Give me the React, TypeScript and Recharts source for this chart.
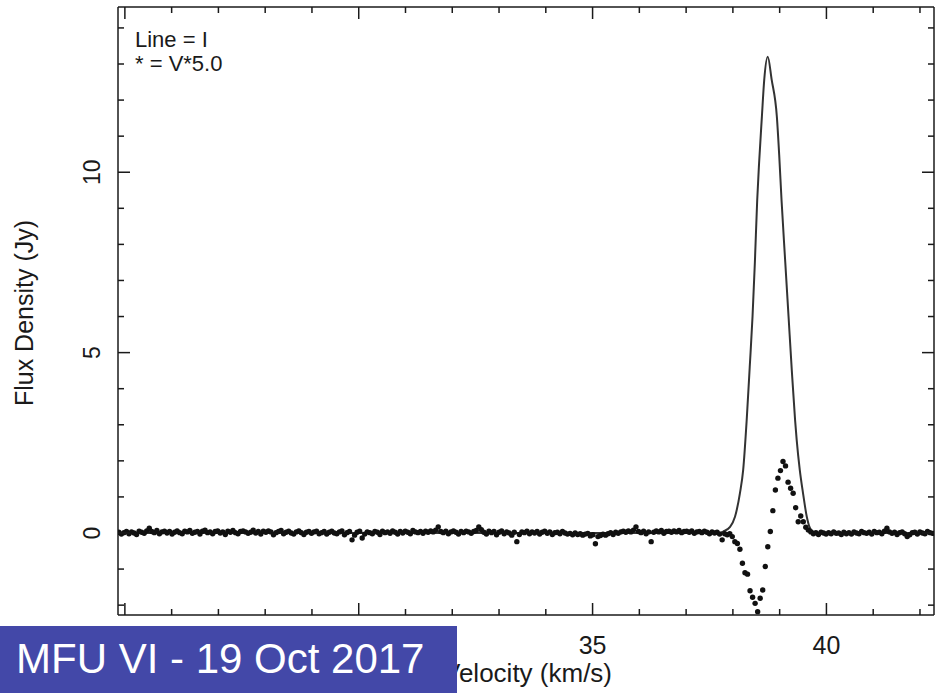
import React from "react";
import {
  ComposedChart,
  Line,
  Scatter,
  XAxis,
  YAxis,
  Customized,
} from "recharts";

// Stokes I profile (solid line)
const lineVel = [
  24.86, 37.7, 37.79, 37.94, 38.045, 38.15, 38.22, 38.295, 38.36, 38.42, 38.47,
  38.52, 38.56, 38.62, 38.67, 38.745, 38.83, 38.94, 38.99, 39.04, 39.12, 39.19,
  39.26, 39.33, 39.364, 39.43, 39.5, 39.58, 39.65, 39.72, 39.85, 42.3,
];
const lineFlux = [
  0, 0, 0.04, 0.17, 0.45, 1.1, 1.75, 3.13, 4.6, 6.0, 7.5, 9.23, 10.25, 11.54,
  12.56, 13.2, 12.56, 11.54, 10.48, 9.23, 7.5, 6.0, 4.5, 3.13, 2.58, 1.75, 1.1,
  0.45, 0.13, 0.04, 0, 0,
];

// Stokes V * 5 channels (dots): first channel velocity and channel width
const vStart = 24.871;
const dv = 0.0542;

const vBaseLeft = [
  0.02, -0.03, 0.01, 0.04, -0.02, 0.03, 0.0, -0.04, 0.05, 0.02, -0.01, 0.06, 0.13, 0.04, 0.01, 0.07, -0.02, 0.03, 0.05, 0.0,
  0.04, -0.03, 0.02, 0.06, 0.01, -0.02, 0.05, 0.03, 0.07, -0.01, 0.02, 0.04, -0.03, 0.05, 0.08, 0.01, 0.03, -0.02, 0.04, 0.06,
  0.0, 0.03, -0.04, 0.05, 0.02, 0.07, 0.01, -0.02, 0.04, 0.06, 0.03, -0.01, 0.02, 0.08, 0.0, 0.04, -0.03, 0.05, 0.02, 0.06,
  0.03, -0.05, 0.01, 0.04, 0.07, -0.02, 0.02, 0.05, 0.0, -0.03, 0.03, 0.06, 0.01, -0.04, 0.02, 0.04, -0.01, 0.03, 0.05, -0.02,
  0.01, 0.04, -0.03, 0.02, 0.05, 0.0, -0.02, 0.03, 0.06, -0.05, 0.01, 0.04, -0.19, -0.06, 0.02, 0.05, -0.14, -0.03, 0.03, 0.01,
  -0.02, 0.04, 0.02, -0.04, 0.05, 0.01, 0.03, -0.01, 0.06, 0.02, -0.03, 0.04, 0.0, 0.05, 0.02, -0.02, 0.07, 0.03, 0.01, 0.04,
  -0.01, 0.05, 0.02, 0.06, 0.03, 0.08, 0.17, 0.04, 0.01, 0.05, -0.02, 0.03, 0.06, 0.02, -0.03, 0.04, 0.01, 0.05, 0.03, -0.01,
  0.04, 0.07, 0.17, 0.09, 0.02, -0.03, 0.05, 0.01, 0.04, -0.05, 0.02, 0.06, -0.02, 0.03, 0.0, -0.06, 0.02, -0.24, -0.04, 0.03,
  0.01, 0.05, -0.02, 0.03, 0.0, 0.04, -0.03, 0.02, 0.05, -0.01, 0.03, -0.04, 0.01, 0.02, -0.02, 0.04, 0.0, -0.03, -0.01, -0.05,
  0.0, -0.04, -0.02, -0.06, -0.03, -0.01, -0.08, -0.05, -0.3, -0.1, -0.07, -0.03, -0.06, -0.02, 0.01, -0.04, 0.02, -0.01, 0.03, 0.05,
  0.02, 0.06, 0.03, 0.08, 0.17, 0.04, 0.01, 0.05, -0.02, 0.03, -0.24, 0.02, 0.06, 0.03, 0.07, -0.01, 0.04, 0.05, 0.02, 0.06,
  0.03, 0.07, 0.01, 0.04, 0.05, 0.02, 0.06, -0.01, 0.03, 0.04, 0.01, 0.05, 0.02, -0.02, 0.03, 0.0, 0.02, -0.03, -0.19, -0.02,
];
const vFeature = [
  -0.05, -0.02, -0.1, -0.24, -0.29, -0.45, -0.84, -1.1, -1.14, -1.6, -1.78,
  -1.95, -2.18, -1.81, -1.58, -0.93, -0.38, 0.04, 0.62, 1.19, 1.52, 1.73, 1.98,
  1.86, 1.41, 1.24, 1.1, 0.7, 0.31, 0.47, 0.31, 0.16, 0.08, 0.03,
];
const vBaseRight = [
  -0.02, 0.01, -0.04, 0.02, 0.0, -0.03, 0.01, -0.02, 0.03, -0.01, 0.0, -0.04,
  0.02, -0.02, 0.01, -0.03, 0.03, 0.0, -0.02, 0.04, 0.01, -0.01, 0.02, -0.03,
  0.04, 0.01, 0.02, -0.02, 0.05, 0.13, 0.03, -0.01, 0.02, -0.04, 0.01, 0.03,
  -0.02, -0.1, -0.05, 0.01, 0.02, -0.03, 0.03, 0.0, -0.02, 0.04, 0.01, -0.01,
];

const xTicks = [25, 26, 27, 28, 29, 30, 31, 32, 33, 34, 35, 36, 37, 38, 39, 40, 41, 42];
const yTicks = [-2, -1, 0, 1, 2, 3, 4, 5, 6, 7, 8, 9, 10, 11, 12, 13, 14];
// tick labels that the title banner covers in the original are not drawn
const hiddenXLabels = [25, 30];

const lineData = lineVel.map((vel, i) => ({ vel, flux: lineFlux[i] }));
const stokesV = [...vBaseLeft, ...vFeature, ...vBaseRight].map((v, i) => ({
  vel: vStart + i * dv,
  flux: v,
}));

const FONT = "'Liberation Sans', Arial, Helvetica, sans-serif";
const INK = "#1a1a1a";

const BottomTick = (props: any) => {
  const { x, y, payload } = props;
  const major = payload.value % 5 === 0;
  const showLabel = major && !hiddenXLabels.includes(payload.value);
  return (
    <g>
      <line x1={x} y1={y} x2={x} y2={y - (major ? 12 : 6)} stroke={INK} strokeWidth={1.5} />
      {showLabel && (
        <text x={x} y={y + 39} textAnchor="middle" fontSize={25} fontFamily={FONT} fill={INK}>
          {payload.value}
        </text>
      )}
    </g>
  );
};

const TopTick = (props: any) => {
  const { x, y, payload } = props;
  const major = payload.value % 5 === 0;
  return <line x1={x} y1={y} x2={x} y2={y + (major ? 12 : 6)} stroke={INK} strokeWidth={1.5} />;
};

const LeftTick = (props: any) => {
  const { x, y, payload } = props;
  const major = payload.value % 5 === 0;
  return (
    <g>
      <line x1={x} y1={y} x2={x + (major ? 12 : 6)} y2={y} stroke={INK} strokeWidth={1.5} />
      {major && (
        <text
          x={100}
          y={y}
          transform={`rotate(-90 100 ${y})`}
          textAnchor="middle"
          fontSize={23}
          fontFamily={FONT}
          fill={INK}
        >
          {payload.value}
        </text>
      )}
    </g>
  );
};

const RightTick = (props: any) => {
  const { x, y, payload } = props;
  const major = payload.value % 5 === 0;
  return <line x1={x} y1={y} x2={x - (major ? 12 : 6)} y2={y} stroke={INK} strokeWidth={1.5} />;
};

const Dot = (props: any) => <circle cx={props.cx} cy={props.cy} r={2.7} fill="#111" />;

const Titles = () => (
  <g fontFamily={FONT} fill={INK}>
    <text x={135} y={47} fontSize={22}>Line = I</text>
    <text x={135} y={71} fontSize={22}>* = V*5.0</text>
    <text x={33} y={313} transform="rotate(-90 33 313)" textAnchor="middle" fontSize={25}>
      Flux Density (Jy)
    </text>
    <text x={443} y={682} fontSize={26}>Velocity (km/s)</text>
  </g>
);

export default function App() {
  const xDomain = [24.853, 42.3];
  const yDomain = [-2.273, 14.58];
  return (
    <div style={{ position: "absolute", left: 0, top: 0, width: 935, height: 693, background: "#fff", overflow: "hidden" }}>
      <ComposedChart width={935} height={693} margin={{ top: 0, right: 0, bottom: 0, left: 0 }}>
        <XAxis
          dataKey="vel"
          type="number"
          domain={xDomain}
          allowDataOverflow
          ticks={xTicks}
          interval={0}
          height={78}
          tickSize={0}
          tickMargin={0}
          tickLine={false}
          axisLine={{ stroke: INK, strokeWidth: 1.5 }}
          tick={<BottomTick />}
        />
        <XAxis
          xAxisId="top"
          orientation="top"
          dataKey="vel"
          type="number"
          domain={xDomain}
          allowDataOverflow
          ticks={xTicks}
          interval={0}
          height={7}
          tickSize={0}
          tickMargin={0}
          tickLine={false}
          axisLine={{ stroke: INK, strokeWidth: 1.5 }}
          tick={<TopTick />}
        />
        <YAxis
          type="number"
          domain={yDomain}
          allowDataOverflow
          ticks={yTicks}
          interval={0}
          width={118}
          tickSize={0}
          tickMargin={0}
          tickLine={false}
          axisLine={{ stroke: INK, strokeWidth: 1.5 }}
          tick={<LeftTick />}
        />
        <YAxis
          yAxisId="right"
          orientation="right"
          type="number"
          domain={yDomain}
          allowDataOverflow
          ticks={yTicks}
          interval={0}
          width={1}
          tickSize={0}
          tickMargin={0}
          tickLine={false}
          axisLine={{ stroke: INK, strokeWidth: 1.5 }}
          tick={<RightTick />}
        />
        <Line
          data={lineData}
          dataKey="flux"
          type="monotone"
          stroke="#333"
          strokeWidth={2}
          dot={false}
          activeDot={false}
          isAnimationActive={false}
        />
        <Scatter data={stokesV} dataKey="flux" shape={<Dot />} isAnimationActive={false} />
        <Customized component={Titles} />
      </ComposedChart>
      <div
        style={{
          position: "absolute",
          left: 0,
          top: 626,
          width: 457,
          height: 67,
          background: "#4348A8",
          color: "#fff",
          fontFamily: FONT,
          fontSize: 42,
          lineHeight: "65px",
          paddingLeft: 16,
          boxSizing: "border-box",
          whiteSpace: "nowrap",
        }}
      >
        MFU VI - 19 Oct 2017
      </div>
    </div>
  );
}
